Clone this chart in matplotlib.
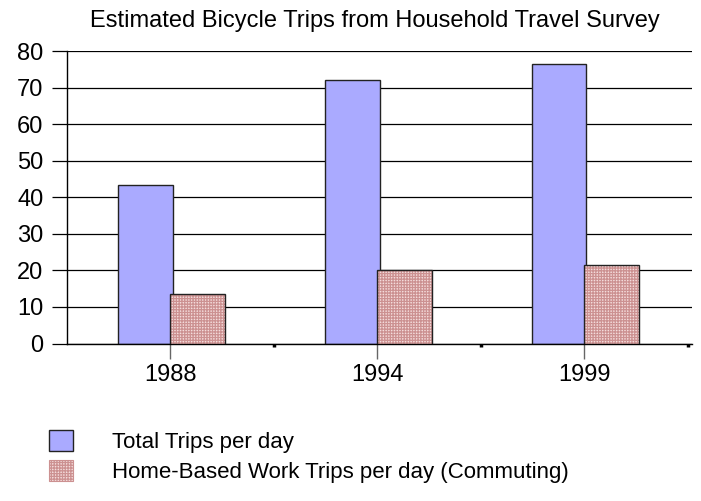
import matplotlib
matplotlib.use("Agg")
import matplotlib.pyplot as plt
from matplotlib.patches import Patch
import numpy as np

plt.rcParams['font.family'] = ['Liberation Sans', 'DejaVu Sans']
plt.rcParams['hatch.linewidth'] = 0.9

# data
years = ['1988', '1994', '1999']
total_trips = [43.4, 72.0, 76.5]
commute_trips = [13.6, 20.1, 21.5]
total_label = 'Total Trips per day'
commute_label = 'Home-Based Work Trips per day (Commuting)'
title = 'Estimated Bicycle Trips from Household Travel Survey'

blue = '#aaaaff'
pink_bg = '#f4dcdc'
pink_grid = '#cc9191'

fig = plt.figure(figsize=(7.01, 5.01), dpi=100)
ax = fig.add_axes([67 / 701, 1 - 343.5 / 501, 625 / 701, 292.5 / 501])

x = np.arange(len(years))
w = 0.265

# grid behind the bars
ax.set_axisbelow(True)
ax.yaxis.grid(True, color='black', linewidth=0.9)

ax.bar(x - 0.255, total_trips, width=w, align='edge', color=blue,
       edgecolor='#222222', linewidth=1.0, zorder=2)
# checkered fill, then a dark outline on top
ax.bar(x, commute_trips, width=w, align='edge', color=pink_bg,
       edgecolor=pink_grid, hatch='++++++', linewidth=0, zorder=3)
ax.bar(x, commute_trips, width=w, align='edge', fill=False,
       edgecolor='#222222', linewidth=1.0, zorder=4)

ax.set_xlim(-0.5, 2.52)
ax.set_ylim(0, 80)
ax.set_yticks(range(0, 81, 10))
ax.set_xticks(x)
ax.set_xticklabels(years)
ax.set_xticks(x + 0.5, minor=True)

for s in ['top', 'right']:
    ax.spines[s].set_visible(False)
ax.spines['left'].set_linewidth(1.0)
ax.spines['bottom'].set_linewidth(1.0)

ax.tick_params(axis='y', length=11, width=0.9, pad=6, labelsize=17)
ax.tick_params(axis='x', which='major', length=11, width=1.0, color='#666666',
               pad=4, labelsize=17)
ax.tick_params(axis='x', which='minor', length=2.5, width=2.5, color='black')

fig.text(90 / 701, 1 - 21 / 501, title, fontsize=17, ha='left', va='center')

# legend drawn below the axes
handles = [
    Patch(facecolor=blue, edgecolor='#222222', linewidth=1.0),
    Patch(facecolor=pink_bg, edgecolor=pink_grid, hatch='++++++', linewidth=0.8),
]
fig.legend(handles, [total_label, commute_label], loc='upper left',
           bbox_to_anchor=(40 / 701, 1 - 421 / 501), frameon=False,
           fontsize=16, handlelength=1.1, handleheight=1.1,
           handletextpad=1.75, labelspacing=0.3, borderaxespad=0)

fig.savefig('out.png', dpi=100)
